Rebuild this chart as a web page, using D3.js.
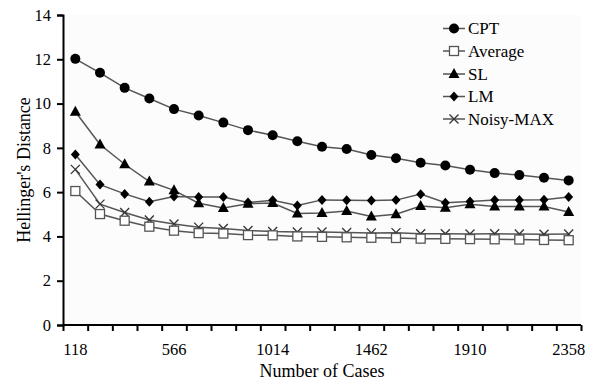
<!DOCTYPE html>
<html>
<head>
<meta charset="utf-8">
<script src="https://cdn.jsdelivr.net/npm/d3@7"></script>
<style>
  html, body { margin: 0; padding: 0; background: #ffffff; }
  svg { display: block; }
  text { font-family: "Liberation Serif", "Times New Roman", serif; fill: #000; }
</style>
</head>
<body>
<svg id="chart" width="590" height="381"></svg>
<script>
const categories = [118, 230, 342, 454, 566, 678, 790, 902, 1014, 1126, 1238, 1350, 1462, 1574, 1686, 1798, 1910, 2022, 2134, 2246, 2358];
const xTickLabels = [118, 566, 1014, 1462, 1910, 2358];
const yTicks = [0, 2, 4, 6, 8, 10, 12, 14];

const cpt     = [12.02, 11.39, 10.71, 10.23, 9.75, 9.46, 9.14, 8.80, 8.57, 8.30, 8.05, 7.95, 7.68, 7.53, 7.33, 7.20, 7.01, 6.86, 6.77, 6.65, 6.53];
const average = [6.05, 5.01, 4.71, 4.44, 4.26, 4.15, 4.13, 4.06, 4.05, 4.00, 3.98, 3.96, 3.94, 3.93, 3.90, 3.89, 3.88, 3.87, 3.86, 3.84, 3.83];
const sl      = [9.63, 8.15, 7.26, 6.48, 6.08, 5.50, 5.28, 5.48, 5.51, 5.04, 5.06, 5.15, 4.90, 5.00, 5.37, 5.29, 5.45, 5.35, 5.35, 5.35, 5.10];
const lm      = [7.70, 6.34, 5.92, 5.57, 5.80, 5.78, 5.78, 5.53, 5.63, 5.40, 5.65, 5.63, 5.62, 5.64, 5.91, 5.52, 5.58, 5.65, 5.65, 5.66, 5.78];
const noisy   = [7.03, 5.46, 5.08, 4.74, 4.56, 4.42, 4.36, 4.27, 4.22, 4.20, 4.20, 4.18, 4.16, 4.17, 4.12, 4.12, 4.11, 4.12, 4.11, 4.10, 4.11];

const seriesNames = ["CPT", "Average", "SL", "LM", "Noisy-MAX"];
const seriesData = [cpt, average, sl, lm, noisy];
const seriesMarkers = ["circle", "square", "triangle", "diamond", "cross"];

const svg = d3.select("#chart");
const pLeft = 63, pRight = 581, pTop = 15, pBottom = 325;

const x = d3.scaleBand().domain(categories).range([pLeft, pRight]).padding(0);
const xEdge = d3.scaleLinear().domain([0, categories.length]).range([pLeft, pRight]);
const y = d3.scaleLinear().domain([0, 14]).range([pBottom, pTop]);

const lineColor = "#555555";

// plot background
svg.append("rect").attr("x", pLeft).attr("y", pTop).attr("width", pRight - pLeft).attr("height", pBottom - pTop).attr("fill", "#fcfcfc");

// y axis
const yAxis = d3.axisLeft(y).tickValues(yTicks).tickSize(6).tickPadding(6).tickFormat(d3.format("d"));
const gy = svg.append("g").attr("transform", `translate(${pLeft},0)`).call(yAxis);
gy.select(".domain").attr("stroke", "#000").attr("stroke-width", 2);
gy.selectAll(".tick line").attr("stroke", "#000").attr("stroke-width", 2);
gy.selectAll(".tick text").attr("font-size", 16.5).attr("font-family", "Liberation Serif").attr("fill", "#000");

// x axis tick marks at category boundaries
const xAxisTicks = d3.axisBottom(xEdge).tickValues(d3.range(categories.length + 1)).tickSize(6).tickFormat("");
const gx = svg.append("g").attr("transform", `translate(0,${pBottom})`).call(xAxisTicks);
gx.select(".domain").attr("stroke", "#000").attr("stroke-width", 2).attr("d", `M${pLeft},0H${pRight}`);
gx.selectAll(".tick line").attr("stroke", "#000").attr("stroke-width", 2);

// x labels
const xAxisLabels = d3.axisBottom(x).tickValues(xTickLabels).tickSize(0).tickPadding(18);
const gxl = svg.append("g").attr("transform", `translate(0,${pBottom})`).call(xAxisLabels);
gxl.select(".domain").remove();
gxl.selectAll(".tick text").attr("font-size", 16.5).attr("font-family", "Liberation Serif").attr("fill", "#000");

// axis titles
svg.append("text").attr("x", (pLeft + pRight) / 2).attr("y", 377).attr("text-anchor", "middle")
  .attr("font-size", 18).text("Number of Cases");
svg.append("text").attr("transform", `translate(30,${(pTop + pBottom) / 2}) rotate(-90)`).attr("text-anchor", "middle")
  .attr("font-size", 18).text("Hellinger's Distance");

function drawMarker(g, type, cx, cy) {
  if (type === "circle") {
    g.append("circle").attr("cx", cx).attr("cy", cy).attr("r", 5).attr("fill", "#000");
  } else if (type === "square") {
    g.append("rect").attr("x", cx - 4.5).attr("y", cy - 4.5).attr("width", 9).attr("height", 9)
      .attr("fill", "#fff").attr("stroke", "#555").attr("stroke-width", 1.3);
  } else if (type === "triangle") {
    g.append("path").attr("d", `M${cx},${cy - 6}L${cx + 5.5},${cy + 4}L${cx - 5.5},${cy + 4}Z`).attr("fill", "#000");
  } else if (type === "diamond") {
    g.append("path").attr("d", `M${cx},${cy - 5}L${cx + 4.5},${cy}L${cx},${cy + 5}L${cx - 4.5},${cy}Z`).attr("fill", "#000");
  } else if (type === "cross") {
    g.append("path").attr("d", `M${cx - 4.5},${cy - 4.5}L${cx + 4.5},${cy + 4.5}M${cx + 4.5},${cy - 4.5}L${cx - 4.5},${cy + 4.5}`)
      .attr("stroke", "#333").attr("stroke-width", 1.3).attr("fill", "none");
  }
}

const line = d3.line().x((d, i) => x(categories[i]) + x.bandwidth() / 2).y(d => y(d));

const order = [4, 1, 3, 2, 0];
order.forEach(si => {
  svg.append("path").datum(seriesData[si]).attr("d", line).attr("fill", "none")
    .attr("stroke", lineColor).attr("stroke-width", 1.5);
});
order.forEach(si => {
  const g = svg.append("g");
  seriesData[si].forEach((v, i) => {
    drawMarker(g, seriesMarkers[si], x(categories[i]) + x.bandwidth() / 2, y(v));
  });
});

// legend
const legendY = [28.5, 51, 74, 96.5, 119];
seriesNames.forEach((name, i) => {
  const g = svg.append("g");
  const ly = legendY[i];
  g.append("line").attr("x1", 443).attr("x2", 465).attr("y1", ly).attr("y2", ly)
    .attr("stroke", lineColor).attr("stroke-width", 1.5);
  drawMarker(g, seriesMarkers[i], 454, ly);
  g.append("text").attr("x", 468).attr("y", ly).attr("dy", "0.35em").attr("font-size", 17).text(name);
});
</script>
</body>
</html>
